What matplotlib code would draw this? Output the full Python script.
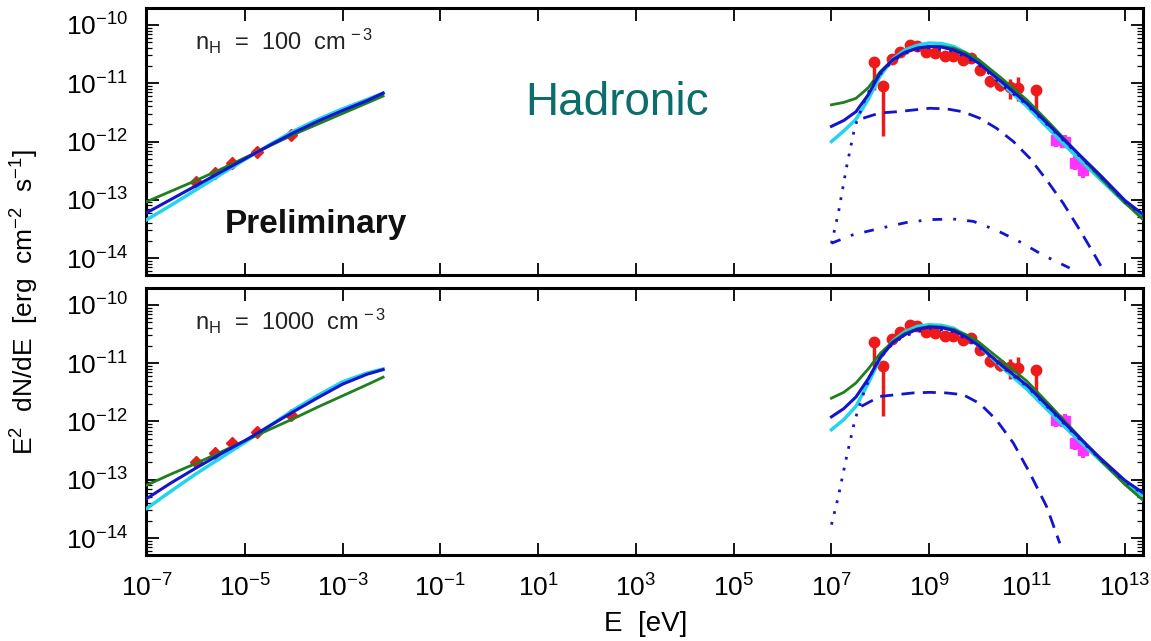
import numpy as np
import matplotlib
matplotlib.use('Agg')
import matplotlib.pyplot as plt
from matplotlib.ticker import FixedLocator, LogLocator, NullFormatter

plt.rcParams['font.family'] = ['Liberation Sans', 'DejaVu Sans']
plt.rcParams['mathtext.fontset'] = 'custom'
plt.rcParams['mathtext.rm'] = 'Liberation Sans'
plt.rcParams['mathtext.it'] = 'Liberation Sans:italic'

# --- data (log10 E [eV], log10 E^2 dN/dE [erg cm^-2 s^-1]) ---
# radio points
radio_loge = [-6.0, -5.6, -5.26, -4.75, -4.05]
radio_logf = [-12.69, -12.54, -12.37, -12.18, -11.89]
radio_err = [0.07, 0.07, 0.09, 0.09, 0.09]

# Fermi points
fermi_loge = [7.87, 8.06, 8.23, 8.40, 8.60, 8.74, 8.94, 9.11, 9.32, 9.49,
              9.69, 9.86, 10.03, 10.24, 10.44, 10.65, 10.82, 11.18]
fermi_logf = [-10.64, -11.05, -10.59, -10.46, -10.34, -10.37, -10.46, -10.49,
              -10.54, -10.53, -10.60, -10.57, -10.77, -10.97, -11.03, -11.07,
              -11.09, -11.11]
fermi_lo = [0.47, 0.85, 0.05, 0.04, 0.04, 0.04, 0.04, 0.04, 0.04, 0.04,
            0.05, 0.05, 0.06, 0.10, 0.10, 0.20, 0.22, 0.46]
fermi_hi = [0.0, 0.05, 0.05, 0.04, 0.04, 0.04, 0.04, 0.04, 0.04, 0.04,
            0.05, 0.05, 0.06, 0.08, 0.08, 0.15, 0.20, 0.0]

# HESS points
hess_loge = [11.60, 11.77, 11.98, 12.15]
hess_logf = [-11.97, -12.00, -12.37, -12.49]
hess_err = [0.12, 0.12, 0.12, 0.14]

# synchrotron models
sync_loge = [-7.0, -6.5, -6.0, -5.5, -5.0, -4.5, -4.0, -3.5, -3.0, -2.5, -2.17]
sync_top_green = [-13.03, -12.85, -12.67, -12.48, -12.28, -12.08, -11.88, -11.70, -11.52, -11.34, -11.22]
sync_top_blue = [-13.22, -12.99, -12.76, -12.53, -12.30, -12.07, -11.85, -11.65, -11.47, -11.30, -11.17]
sync_top_cyan = [-13.34, -13.09, -12.83, -12.57, -12.31, -12.06, -11.82, -11.62, -11.44, -11.28, -11.17]
sync_bot_green = [-13.09, -12.90, -12.72, -12.53, -12.33, -12.14, -11.95, -11.75, -11.56, -11.37, -11.24]
sync_bot_blue = [-13.32, -13.05, -12.80, -12.56, -12.33, -12.08, -11.83, -11.59, -11.36, -11.19, -11.11]
sync_bot_cyan = [-13.49, -13.19, -12.90, -12.63, -12.36, -12.08, -11.80, -11.55, -11.32, -11.17, -11.10]

# gamma-ray models
gam_loge = [7.0, 7.25, 7.5, 7.75, 8.0, 8.25, 8.5, 8.75, 9.0, 9.25, 9.5, 9.75,
            10.0, 10.5, 11.0, 11.5, 12.0, 12.5, 13.0, 13.4]
gam_top_blue = [-11.74, -11.64, -11.49, -11.20, -10.82, -10.60, -10.47, -10.40, -10.37, -10.38,
                -10.43, -10.52, -10.65, -10.99, -11.35, -11.76, -12.17, -12.58, -13.01, -13.27]
gam_top_green = [-11.37, -11.33, -11.26, -11.08, -10.80, -10.60, -10.48, -10.40, -10.37, -10.37,
                 -10.40, -10.48, -10.59, -10.93, -11.29, -11.72, -12.17, -12.62, -13.05, -13.36]
gam_top_cyan = [-12.00, -11.82, -11.62, -11.28, -10.87, -10.59, -10.43, -10.35, -10.31, -10.32,
                -10.37, -10.48, -10.62, -11.02, -11.40, -11.83, -12.25, -12.65, -13.05, -13.30]
gam_bot_blue = [-11.92, -11.78, -11.58, -11.27, -10.90, -10.65, -10.51, -10.42, -10.38, -10.39,
                -10.44, -10.55, -10.69, -11.05, -11.38, -11.80, -12.22, -12.63, -13.01, -13.24]
gam_bot_green = [-11.60, -11.50, -11.34, -11.10, -10.83, -10.63, -10.49, -10.41, -10.37, -10.38,
                 -10.42, -10.51, -10.63, -10.97, -11.31, -11.75, -12.20, -12.66, -13.08, -13.37]
gam_bot_cyan = [-12.14, -11.97, -11.74, -11.35, -10.91, -10.62, -10.46, -10.37, -10.34, -10.35,
                -10.40, -10.53, -10.69, -11.08, -11.45, -11.87, -12.28, -12.67, -13.06, -13.29]

# pi0 decay (dotted)
pi_loge = [7.0, 7.14, 7.31, 7.48, 7.68, 7.85, 8.06, 8.26, 8.5, 9.0, 9.5, 10.0,
           10.5, 11.0, 11.5, 12.0, 12.5, 13.0, 13.4]
pi_top = [-13.75, -13.23, -12.43, -11.74, -11.29, -11.00, -10.78, -10.62, -10.49, -10.39, -10.45,
          -10.67, -11.04, -11.37, -11.78, -12.19, -12.60, -13.03, -13.29]
pi_bot = [-13.77, -13.29, -12.60, -11.97, -11.46, -11.11, -10.85, -10.66, -10.53, -10.40, -10.46,
          -10.71, -11.07, -11.40, -11.82, -12.24, -12.65, -13.03, -13.26]

# bremsstrahlung (dashed)
br_top_loge = [7.65, 7.99, 8.33, 8.67, 9.01, 9.35, 9.69, 10.03, 10.37, 10.72, 11.06,
               11.40, 11.74, 12.08, 12.32, 12.52]
br_top = [-11.60, -11.51, -11.49, -11.46, -11.43, -11.44, -11.49, -11.60, -11.77, -12.00,
          -12.29, -12.66, -13.06, -13.52, -13.86, -14.15]
br_bot_loge = [7.61, 7.99, 8.33, 8.67, 9.01, 9.35, 9.69, 10.03, 10.37, 10.72, 11.06,
               11.40, 11.67]
br_bot = [-11.74, -11.57, -11.54, -11.51, -11.50, -11.51, -11.54, -11.69, -11.97, -12.37,
          -12.89, -13.46, -14.09]

# inverse Compton (dash-dot), top panel only
ic_loge = [7.0, 7.44, 7.99, 8.53, 9.01, 9.49, 9.90, 10.37, 10.85, 11.33, 11.87]
ic_top = [-13.745, -13.60, -13.49, -13.39, -13.34, -13.33, -13.37, -13.52, -13.72, -13.95, -14.17]

x_tick_exp = [-7, -5, -3, -1, 1, 3, 5, 7, 9, 11, 13]
y_tick_exp = [-14, -13, -12, -11, -10]
panel_labels = ['n$_\\mathrm{H}$  =  100  cm$^{\\,-3}$', 'n$_\\mathrm{H}$  =  1000  cm$^{\\,-3}$']

GREEN = '#1f7f1f'
BLUE = '#1414cc'
CYAN = '#22d4ec'
RED = '#ee1a1a'
MAG = '#ff33ff'


def p(v):
    return 10.0 ** np.asarray(v)


fig = plt.figure(figsize=(11.51, 6.41), dpi=100)
ax_top = fig.add_axes([0.1268, 0.5710, 0.8662, 0.4165])
ax_bot = fig.add_axes([0.1268, 0.1342, 0.8662, 0.4165])

panels = [
    (ax_top, sync_top_green, sync_top_blue, sync_top_cyan, gam_top_green, gam_top_blue,
     gam_top_cyan, pi_top, br_top_loge, br_top, True),
    (ax_bot, sync_bot_green, sync_bot_blue, sync_bot_cyan, gam_bot_green, gam_bot_blue,
     gam_bot_cyan, pi_bot, br_bot_loge, br_bot, False),
]

for i, (ax, sg, sb, sc, gg, gb, gc, pi, bl, bv, has_ic) in enumerate(panels):
    ax.set_xscale('log')
    ax.set_yscale('log')

    # data
    ax.errorbar(p(radio_loge), p(radio_logf),
                yerr=[p(radio_logf) - p(np.subtract(radio_logf, radio_err)),
                      p(np.add(radio_logf, radio_err)) - p(radio_logf)],
                fmt='D', color=RED, ms=6, elinewidth=2.5, capsize=0, zorder=2)
    ax.errorbar(p(fermi_loge), p(fermi_logf),
                yerr=[p(fermi_logf) - p(np.subtract(fermi_logf, fermi_lo)),
                      p(np.add(fermi_logf, fermi_hi)) - p(fermi_logf)],
                fmt='o', color=RED, ms=7.5, elinewidth=2.5, capsize=0, zorder=2)
    ax.errorbar(p(hess_loge), p(hess_logf),
                yerr=[p(hess_logf) - p(np.subtract(hess_logf, hess_err)),
                      p(np.add(hess_logf, hess_err)) - p(hess_logf)],
                fmt='s', color=MAG, ms=6.5, elinewidth=3, capsize=0, zorder=2)

    # models
    ax.plot(p(sync_loge), p(sc), color=CYAN, lw=2.5, zorder=3)
    ax.plot(p(sync_loge), p(sg), color=GREEN, lw=2.0, zorder=4)
    ax.plot(p(sync_loge), p(sb), color=BLUE, lw=2.2, zorder=5)
    ax.plot(p(gam_loge), p(gc), color=CYAN, lw=2.5, zorder=3)
    ax.plot(p(gam_loge), p(gg), color=GREEN, lw=2.0, zorder=4)
    ax.plot(p(gam_loge), p(gb), color=BLUE, lw=2.2, zorder=5)
    ax.plot(p(pi_loge), p(pi), color=BLUE, lw=2.0, ls=(0, (1, 3)), zorder=5)
    ax.plot(p(bl), p(bv), color=BLUE, lw=2.0, ls=(0, (4.7, 3)), zorder=5)
    if has_ic:
        ax.plot(p(ic_loge), p(ic_top), color=BLUE, lw=2.0, ls=(0, (3.5, 4, 1, 4)), zorder=5)

    ax.set_xlim(10 ** -7.02, 10 ** 13.37)
    ax.set_ylim(10 ** -14.29, 10 ** -9.71)

    ax.xaxis.set_major_locator(FixedLocator(p(x_tick_exp)))
    ax.xaxis.set_minor_locator(FixedLocator([]))
    ax.yaxis.set_major_locator(FixedLocator(p(y_tick_exp)))
    ax.yaxis.set_minor_locator(LogLocator(base=10, subs=np.arange(2, 10)))
    ax.yaxis.set_minor_formatter(NullFormatter())
    ax.set_yticklabels([f'$10^{{{e}}}$' for e in y_tick_exp])
    if i == 1:
        ax.set_xticklabels([f'$10^{{{e}}}$' for e in x_tick_exp])
    else:
        ax.set_xticklabels([])

    ax.tick_params(which='major', direction='in', top=True, right=True,
                   length=9, width=1.3, labelsize=19)
    ax.tick_params(axis='y', which='major', pad=13)
    ax.tick_params(axis='x', which='major', pad=14)
    ax.tick_params(which='minor', direction='in', top=True, right=True,
                   length=4.5, width=0.9)
    for s in ax.spines.values():
        s.set_linewidth(2.2)

    ax.text(0.049, 0.875, panel_labels[i], transform=ax.transAxes,
            fontsize=17, ha='left', va='center', color='#222222')

ax_top.text(0.079, 0.19, 'Preliminary', transform=ax_top.transAxes,
            fontsize=24, fontweight='bold', ha='left', va='center', color='#111111')
fig.text(0.456, 0.8206, 'Hadronic', fontsize=33, color='#0b6e6a',
         ha='left', va='baseline')

fig.text(0.022, 0.529, 'E$^2$  dN/dE  [erg  cm$^{-2}$  s$^{-1}$]', rotation=90,
         fontsize=19, ha='center', va='center')
fig.text(0.561, 0.026, 'E  [eV]', fontsize=20, ha='center', va='center')

fig.savefig('out.png', dpi=100)
